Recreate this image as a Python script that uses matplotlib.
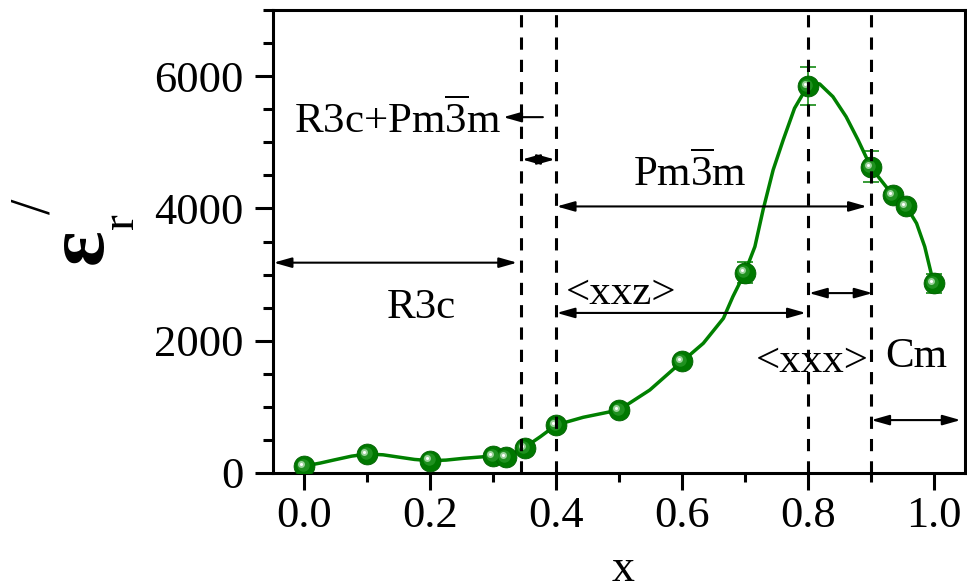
import matplotlib
matplotlib.use('Agg')
import matplotlib.pyplot as plt
from matplotlib.transforms import ScaledTranslation
from matplotlib.ticker import MultipleLocator, FixedLocator

plt.rcParams['font.family'] = ['Liberation Serif', 'DejaVu Serif']
plt.rcParams['mathtext.fontset'] = 'custom'
plt.rcParams['mathtext.rm'] = 'Liberation Serif'
plt.rcParams['mathtext.it'] = 'Liberation Serif:italic'
plt.rcParams['mathtext.bf'] = 'Liberation Serif:bold'

# ---- measured data points ----
x_vals = [0.0, 0.1, 0.2, 0.3, 0.32, 0.35, 0.4, 0.5, 0.6, 0.7, 0.8, 0.9, 0.935, 0.957, 1.0]
eps_vals = [106, 287, 186, 257, 240, 373, 726, 953, 1690, 3030, 5850, 4630, 4200, 4030, 2870]
eps_err = [30, 30, 30, 30, 30, 40, 50, 50, 80, 155, 290, 232, 60, 60, 146]

# ---- smooth guide curve ----
curve_x = [0.0, 0.025, 0.047, 0.075, 0.1, 0.125, 0.152, 0.175, 0.2, 0.225, 0.253, 0.3, 0.32,
           0.348, 0.375, 0.4, 0.443, 0.5, 0.549, 0.6, 0.634, 0.666, 0.681, 0.7, 0.716,
           0.729, 0.745, 0.761, 0.779, 0.793, 0.8, 0.81, 0.819, 0.84, 0.861, 0.88, 0.9,
           0.914, 0.935, 0.957, 0.973, 0.986, 1.0]
curve_y = [106, 150, 197, 255, 287, 275, 237, 205, 186, 195, 222, 257, 245,
           373, 549, 726, 842, 953, 1255, 1683, 1961, 2339, 2666, 3029, 3422,
           3977, 4581, 5035, 5514, 5741, 5851, 5890, 5882, 5690, 5387, 5035, 4631,
           4456, 4203, 4026, 3775, 3422, 2868]

# ---- phase boundaries and annotations ----
phase_bounds = [0.345, 0.4, 0.8, 0.9]
arrow_x0 = [-0.049, 0.346, 0.401, 0.401, 0.802, 0.901]
arrow_x1 = [0.338, 0.398, 0.894, 0.797, 0.903, 1.043]
arrow_y = [3180, 4740, 4030, 2420, 2720, 800]
single_arrow = (0.379, 0.316, 5380)  # from, to, y

label_text = ['R3c+Pm$\\overline{\\mathrm{3}}$m', 'R3c', 'Pm$\\overline{\\mathrm{3}}$m',
              '<xxz>', '<xxx>', 'Cm']
label_x = [0.148, 0.186, 0.613, 0.503, 0.808, 0.973]
label_y = [5141, 2344, 4339, 2555, 1527, 1603]

xtick_major = [0.0, 0.2, 0.4, 0.6, 0.8, 1.0]
xtick_labels = ['0.0', '0.2', '0.4', '0.6', '0.8', '1.0']
ytick_major = [0, 2000, 4000, 6000]
ytick_labels = ['0', '2000', '4000', '6000']

GREEN = '#008000'
W, H = 967, 587

fig = plt.figure(figsize=(W / 100, H / 100), dpi=100)
ax = fig.add_axes([273 / W, 1 - 473 / H, (965 - 273) / W, (473 - 10) / H])
ax.set_xlim(-0.05, 1.05)
ax.set_ylim(0, 7000)

ax.plot(curve_x, curve_y, color=GREEN, lw=2.5, zorder=2, solid_joinstyle='round')
ax.errorbar(x_vals, eps_vals, yerr=eps_err, fmt='none', ecolor=GREEN,
            elinewidth=1.1, capsize=6, capthick=1.1, zorder=3)
ax.plot(x_vals, eps_vals, 'o', ms=15, color='#007800', mec='#006000', mew=0.6, zorder=4)
off1 = ax.transData + ScaledTranslation(-0.015, 0.012, fig.dpi_scale_trans)
off2 = ax.transData + ScaledTranslation(-0.03, 0.022, fig.dpi_scale_trans)
ax.plot(x_vals, eps_vals, 'o', ms=9, color='#1f911f', mew=0, transform=off1, zorder=5)
ax.plot(x_vals, eps_vals, 'o', ms=5, color='#9ad29a', mew=0, transform=off2, zorder=6)
ax.plot(x_vals, eps_vals, 'o', ms=2.2, color='white', mew=0, transform=off2, zorder=7)

for xb in phase_bounds:
    ax.axvline(xb, color='black', lw=2.2, ls=(0, (4, 3.3)), zorder=8)

astyle = '<|-|>,head_length=0.6,head_width=0.17'
for x0, x1, y in zip(arrow_x0, arrow_x1, arrow_y):
    ax.annotate('', xy=(x1, y), xytext=(x0, y),
                arrowprops=dict(arrowstyle=astyle, color='black', lw=1.5,
                                shrinkA=0, shrinkB=0, mutation_scale=18), zorder=9)
ax.annotate('', xy=(single_arrow[1], single_arrow[2]), xytext=(single_arrow[0], single_arrow[2]),
            arrowprops=dict(arrowstyle='-|>,head_length=0.6,head_width=0.17', color='black',
                            lw=1.5, shrinkA=0, shrinkB=0, mutation_scale=18), zorder=9)

for s, lx, ly in zip(label_text, label_x, label_y):
    ax.text(lx, ly, s, ha='center', va='baseline', fontsize=31, zorder=10)

ax.xaxis.set_major_locator(FixedLocator(xtick_major))
ax.set_xticklabels(xtick_labels)
ax.xaxis.set_minor_locator(MultipleLocator(0.1))
ax.yaxis.set_major_locator(FixedLocator(ytick_major))
ax.set_yticklabels(ytick_labels)
ax.yaxis.set_minor_locator(MultipleLocator(500))

ax.tick_params(axis='both', which='major', direction='out', width=2.2, labelsize=32)
ax.tick_params(axis='x', which='major', length=12.5, pad=4)
ax.tick_params(axis='y', which='major', length=13, pad=8)
ax.tick_params(axis='x', which='minor', direction='out', length=6.5, width=2.2)
ax.tick_params(axis='y', which='minor', direction='out', length=7, width=2.2)
for sp in ax.spines.values():
    sp.set_linewidth(2.2)

# axis labels
fig.text(623 / W, 1 - 581 / H, 'x', ha='center', va='baseline', fontsize=33)
fig.text(102 / W, 1 - 246.5 / H, 'ε', rotation=90, rotation_mode='anchor',
         ha='center', va='baseline', fontsize=60, fontweight='bold')
fig.text(133 / W, 1 - 221 / H, 'r', rotation=90, rotation_mode='anchor',
         ha='center', va='baseline', fontsize=34)
fig.text(50 / W, 1 - 206 / H, '/', rotation=90, rotation_mode='anchor',
         ha='center', va='baseline', fontsize=40)

fig.savefig('out.png', dpi=100)
